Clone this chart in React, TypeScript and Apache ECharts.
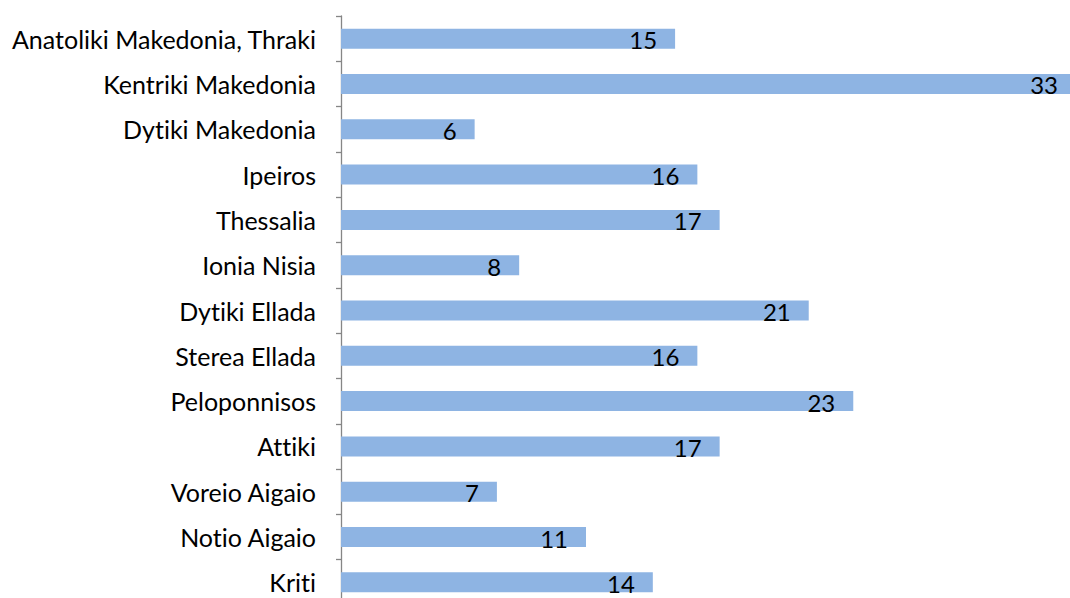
import React, { useEffect, useRef } from "react";
import * as echarts from "echarts";

const categories = [
  "Anatoliki Makedonia, Thraki",
  "Kentriki Makedonia",
  "Dytiki Makedonia",
  "Ipeiros",
  "Thessalia",
  "Ionia Nisia",
  "Dytiki Ellada",
  "Sterea Ellada",
  "Peloponnisos",
  "Attiki",
  "Voreio Aigaio",
  "Notio Aigaio",
  "Kriti",
];
const values = [15, 33, 6, 16, 17, 8, 21, 16, 23, 17, 7, 11, 14];

export default function App() {
  const ref = useRef<HTMLDivElement>(null);
  useEffect(() => {
    if (!ref.current) return;
    document.body.style.margin = "0";
    document.body.style.overflow = "hidden";
    const chart = echarts.init(ref.current, null, { renderer: "svg" });
    chart.setOption({
      animation: false,
      textStyle: { fontFamily: "Lato" },
      grid: { left: 341, top: 16, right: 0, bottom: 0, containLabel: false },
      xAxis: {
        type: "value",
        min: 0,
        max: 33,
        show: false,
      },
      yAxis: {
        type: "category",
        data: categories,
        inverse: true,
        axisLine: { show: true, lineStyle: { color: "#868686", width: 1.3 } },
        axisTick: { show: true, length: 5, lineStyle: { color: "#868686", width: 1.3 } },
        axisLabel: { color: "#000", fontSize: 25, fontFamily: "Lato", margin: 25 },
      },
      series: [
        {
          type: "bar",
          data: values,
          barWidth: 20,
          itemStyle: { color: "#8EB4E3" },
          label: {
            show: true,
            position: "insideRight",
            distance: 18,
            color: "#000",
            fontSize: 24,
            fontFamily: "Lato",
            offset: [0, 1],
          },
        },
      ],
    });
    return () => chart.dispose();
  }, []);
  return (
    <div style={{ width: 1070, height: 598, overflow: "hidden", position: "absolute", left: 0, top: 0 }}>
      <style>{"svg text { font-variant-ligatures: none; font-feature-settings: 'liga' 0; }"}</style>
      <div ref={ref} style={{ width: 1076, height: 605 }} />
    </div>
  );
}
